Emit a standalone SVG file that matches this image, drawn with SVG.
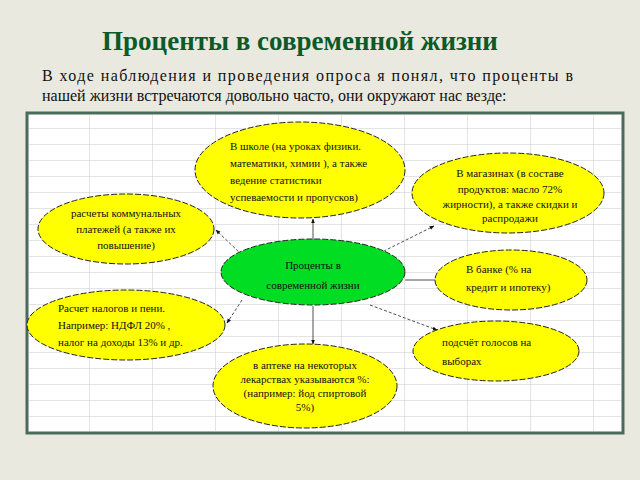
<svg xmlns="http://www.w3.org/2000/svg" width="640" height="480" viewBox="0 0 640 480">
<defs>
<style>
text{font-family:'Liberation Serif','Times New Roman','DejaVu Serif',serif}
.y{fill:#ffff00;stroke:#222;stroke-width:1;stroke-dasharray:6 2}
.g{fill:#00dd22;stroke:#222;stroke-width:1;stroke-dasharray:6 2}
.t{font-size:11px;fill:#111}
.c{stroke:#222;stroke-width:0.8;fill:none}
.d{stroke-dasharray:3 2}
</style>
<marker id="a" viewBox="0 0 10 10" refX="9" refY="5" markerWidth="6" markerHeight="6" orient="auto"><path d="M0,1 L10,5 L0,9 z" fill="#111"/></marker>
<pattern id="grid" x="27" y="113" width="63" height="16" patternUnits="userSpaceOnUse"><path d="M63,0 V16 M0,16 H63" stroke="#c8c8c8" stroke-width="1" fill="none"/></pattern>
</defs>
<rect width="640" height="480" fill="#e9e9df"/>
<text x="300" y="50" text-anchor="middle" font-size="27" font-weight="bold" fill="#0b5a2a">Проценты в современной жизни</text>
<text font-size="16" fill="#111"><tspan x="42" y="81" textLength="531" lengthAdjust="spacing">В ходе наблюдения и проведения опроса я понял, что проценты в</tspan><tspan x="42" y="101">нашей жизни встречаются довольно часто, они окружают нас везде:</tspan></text>
<rect x="27" y="113" width="596" height="320" fill="#fff" stroke="#4a6a5a" stroke-width="3"/>
<rect x="29" y="115" width="592" height="316" fill="url(#grid)"/>
<g id="connectors">
<line class="c" x1="313" y1="239" x2="313" y2="219" marker-end="url(#a)"/>
<line class="c d" x1="242" y1="255" x2="216" y2="230" marker-end="url(#a)"/>
<line class="c d" x1="242" y1="300" x2="227" y2="323" marker-end="url(#a)"/>
<line class="c" x1="313" y1="306" x2="313" y2="344" marker-end="url(#a)"/>
<line class="c d" x1="370" y1="258" x2="434" y2="226" marker-end="url(#a)"/>
<line class="c" x1="405" y1="280" x2="440" y2="280" marker-end="url(#a)"/>
<line class="c d" x1="370" y1="305" x2="437" y2="330" marker-end="url(#a)"/>
</g>
<g id="school"><ellipse class="y" cx="300" cy="170" rx="105" ry="48"/><text class="t"><tspan x="230" y="150">В школе (на уроках физики.</tspan><tspan x="230" y="167">математики, химии ), а также</tspan><tspan x="230" y="184">ведение статистики</tspan><tspan x="230" y="201">успеваемости и пропусков)</tspan></text></g>
<g id="shops"><ellipse class="y" cx="508" cy="193" rx="96" ry="40"/><text class="t" text-anchor="middle" font-size="10"><tspan x="510" y="177">В магазинах (в составе</tspan><tspan x="510" y="193">продуктов: масло 72%</tspan><tspan x="510" y="208">жирности), а также скидки и</tspan><tspan x="510" y="222">распродажи</tspan></text></g>
<g id="utilities"><ellipse class="y" cx="126" cy="229" rx="88" ry="35"/><text class="t" text-anchor="middle"><tspan x="126" y="217">расчеты коммунальных</tspan><tspan x="126" y="233">платежей (а также их</tspan><tspan x="126" y="249">повышение)</tspan></text></g>
<g id="center"><ellipse class="g" cx="313" cy="272" rx="92" ry="33"/><text class="t" text-anchor="middle" font-size="12"><tspan x="313" y="269">Проценты в</tspan><tspan x="313" y="289">современной жизни</tspan></text></g>
<g id="bank"><ellipse class="y" cx="511" cy="280" rx="76" ry="30"/><text class="t"><tspan x="466" y="273">В банке (% на</tspan><tspan x="466" y="291">кредит и ипотеку)</tspan></text></g>
<g id="taxes"><ellipse class="y" cx="126" cy="325" rx="99" ry="35"/><text class="t"><tspan x="58" y="312">Расчет налогов и пени.</tspan><tspan x="58" y="329">Например: НДФЛ 20% ,</tspan><tspan x="58" y="346">налог на доходы 13% и др.</tspan></text></g>
<g id="elections"><ellipse class="y" cx="496" cy="351" rx="83" ry="30"/><text class="t"><tspan x="442" y="346">подсчёт голосов на</tspan><tspan x="442" y="365">выборах</tspan></text></g>
<g id="pharmacy"><ellipse class="y" cx="305" cy="386" rx="92" ry="42"/><text class="t" text-anchor="middle" font-size="10"><tspan x="305" y="369">в аптеке на некоторых</tspan><tspan x="305" y="383">лекарствах указываются %:</tspan><tspan x="305" y="397">(например: йод спиртовой</tspan><tspan x="305" y="411">5%)</tspan></text></g>
</svg>
